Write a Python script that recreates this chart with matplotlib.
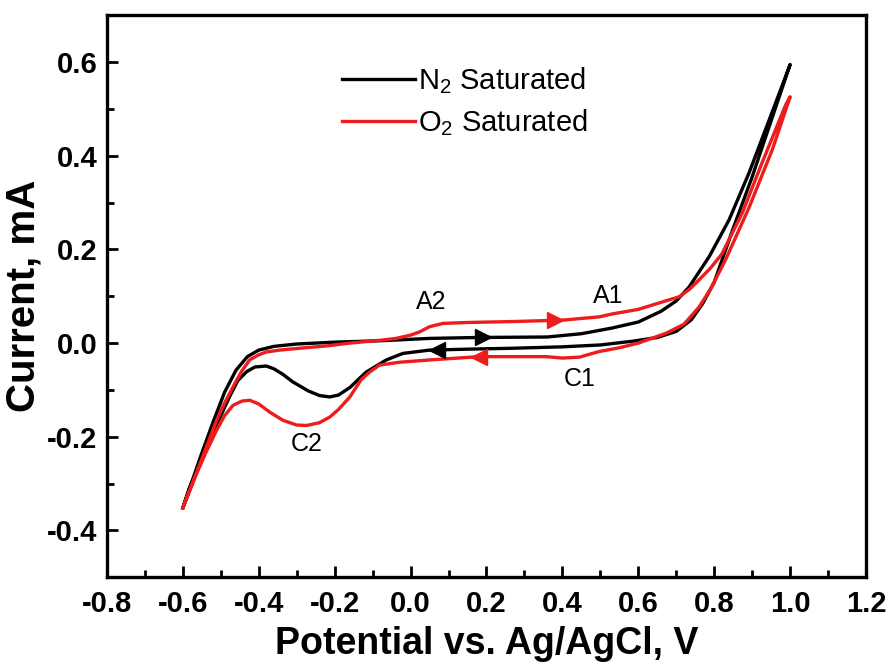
import numpy as np
import matplotlib.pyplot as plt
from matplotlib.ticker import MultipleLocator

plt.rcParams['font.family'] = ['Liberation Sans', 'DejaVu Sans']
plt.rcParams['mathtext.fontset'] = 'custom'
plt.rcParams['mathtext.rm'] = 'Liberation Sans'

# N2 saturated, forward scan (-0.6 -> 1.0 V)
n2_fwd_x = [-0.60, -0.58, -0.55, -0.52, -0.49, -0.46, -0.43, -0.40, -0.36, -0.30, -0.20,
            -0.08, 0.05, 0.18, 0.36, 0.45, 0.53, 0.60, 0.66, 0.70, 0.734, 0.787, 0.839,
            0.892, 0.945, 1.00]
n2_fwd_y = [-0.352, -0.305, -0.235, -0.168, -0.105, -0.058, -0.029, -0.015, -0.007, -0.002, 0.002,
            0.005, 0.010, 0.012, 0.013, 0.020, 0.032, 0.045, 0.068, 0.090, 0.120, 0.185, 0.263,
            0.364, 0.477, 0.595]
# N2 saturated, reverse scan (1.0 -> -0.6 V)
n2_rev_x = [1.00, 0.95, 0.90, 0.85, 0.80, 0.77, 0.74, 0.70, 0.65, 0.585, 0.50, 0.40, 0.27,
            0.15, 0.05, -0.02, -0.064, -0.117, -0.16, -0.19, -0.213, -0.24, -0.27, -0.31,
            -0.336, -0.36, -0.38, -0.41, -0.432, -0.455, -0.476, -0.50, -0.529, -0.555,
            -0.582, -0.60]
n2_rev_y = [0.595, 0.475, 0.355, 0.245, 0.130, 0.085, 0.050, 0.025, 0.012, 0.004, -0.004, -0.008, -0.011,
            -0.013, -0.015, -0.022, -0.036, -0.062, -0.095, -0.111, -0.115, -0.112, -0.102, -0.083,
            -0.067, -0.055, -0.049, -0.051, -0.061, -0.080, -0.113, -0.155, -0.208, -0.260,
            -0.308, -0.352]

# O2 saturated, forward scan
o2_fwd_x = [-0.60, -0.58, -0.555, -0.53, -0.511, -0.49, -0.468, -0.445, -0.424, -0.40, -0.38,
            -0.345, -0.292, -0.22, -0.16, -0.08, -0.038, 0.0, 0.024, 0.05, 0.085, 0.15, 0.27,
            0.40, 0.497, 0.53, 0.60, 0.664, 0.708, 0.735, 0.76, 0.79, 0.82, 0.874, 0.926,
            0.989, 1.00]
o2_fwd_y = [-0.352, -0.310, -0.258, -0.205, -0.165, -0.128, -0.094, -0.060, -0.036, -0.025, -0.019,
            -0.015, -0.011, -0.006, 0.000, 0.006, 0.010, 0.017, 0.024, 0.035, 0.042, 0.044, 0.046,
            0.049, 0.056, 0.062, 0.072, 0.088, 0.099, 0.115, 0.135, 0.160, 0.190, 0.278, 0.385,
            0.510, 0.526]
# O2 saturated, reverse scan
o2_rev_x = [1.00, 0.953, 0.892, 0.83, 0.79, 0.76, 0.72, 0.673, 0.60, 0.55, 0.497, 0.445, 0.40,
            0.357, 0.18, 0.05, -0.03, -0.082, -0.108, -0.13, -0.16, -0.19, -0.213, -0.24,
            -0.274, -0.30, -0.336, -0.37, -0.40, -0.424, -0.445, -0.468, -0.49, -0.511, -0.54,
            -0.564, -0.60]
o2_rev_y = [0.526, 0.413, 0.290, 0.178, 0.115, 0.077, 0.040, 0.021, 0.000, -0.010, -0.018, -0.030, -0.032,
            -0.029, -0.029, -0.036, -0.041, -0.047, -0.062, -0.078, -0.115, -0.142, -0.158, -0.170,
            -0.176, -0.175, -0.165, -0.148, -0.130, -0.122, -0.124, -0.133, -0.155, -0.186, -0.235,
            -0.279, -0.352]

# direction arrows on the curves (x position of each arrow)
n2_arrow_fwd = 0.19
n2_arrow_rev = 0.07
o2_arrow_fwd = 0.38
o2_arrow_rev = 0.18

peak_labels = ['A2', 'A1', 'C1', 'C2']
peak_x = [0.055, 0.52, 0.445, -0.275]
peak_y = [0.088, 0.101, -0.077, -0.215]

black = '#000000'
red = '#ee1c1c'

fig = plt.figure(figsize=(8.91, 6.65), dpi=100)
ax = fig.add_axes([0.120, 0.132, 0.852, 0.845])

ax.plot(n2_fwd_x + n2_rev_x, n2_fwd_y + n2_rev_y, color=black, lw=2.4, label='N$_2$ Saturated')
ax.plot(o2_fwd_x + o2_rev_x, o2_fwd_y + o2_rev_y, color=red, lw=2.4, label='O$_2$ Saturated')

# arrowheads
ax.plot(n2_arrow_fwd, np.interp(n2_arrow_fwd, n2_fwd_x, n2_fwd_y), marker='>', ms=12, color=black, mec=black)
ax.plot(n2_arrow_rev, np.interp(n2_arrow_rev, n2_rev_x[::-1], n2_rev_y[::-1]), marker='<', ms=12, color=black, mec=black)
ax.plot(o2_arrow_fwd, np.interp(o2_arrow_fwd, o2_fwd_x, o2_fwd_y), marker='>', ms=12, color=red, mec=red)
ax.plot(o2_arrow_rev, np.interp(o2_arrow_rev, o2_rev_x[::-1], o2_rev_y[::-1]), marker='<', ms=12, color=red, mec=red)

for lab, px, py in zip(peak_labels, peak_x, peak_y):
    ax.text(px, py, lab, fontsize=18, ha='center', va='center')

ax.set_xlim(-0.8, 1.2)
ax.set_ylim(-0.5, 0.7)
ax.xaxis.set_major_locator(MultipleLocator(0.2))
ax.xaxis.set_minor_locator(MultipleLocator(0.1))
ax.yaxis.set_major_locator(MultipleLocator(0.2))
ax.yaxis.set_minor_locator(MultipleLocator(0.1))
ax.set_yticks([-0.4, -0.2, 0.0, 0.2, 0.4, 0.6])
ax.xaxis.set_major_formatter(plt.FuncFormatter(lambda v, p: '%.1f' % v))
ax.yaxis.set_major_formatter(plt.FuncFormatter(lambda v, p: '%.1f' % v))
ax.tick_params(which='both', direction='in', width=2, top=False, right=False, labelsize=21)
ax.tick_params(which='major', length=8)
ax.tick_params(which='minor', length=5)
ax.tick_params(axis='x', pad=9)
ax.tick_params(axis='y', pad=7)
for lbl in ax.get_xticklabels() + ax.get_yticklabels():
    lbl.set_fontweight('bold')
for sp in ax.spines.values():
    sp.set_linewidth(2.4)

ax.set_xlabel('Potential vs. Ag/AgCl, V', fontsize=27, fontweight='bold', labelpad=6)
ax.set_ylabel('Current, mA', fontsize=29, fontweight='bold', labelpad=3)

ax.legend(loc='upper left', bbox_to_anchor=(0.275, 0.958), frameon=False, fontsize=21,
          handlelength=2.5, handletextpad=0.1, labelspacing=0.4)

fig.savefig('out.png', dpi=100)
